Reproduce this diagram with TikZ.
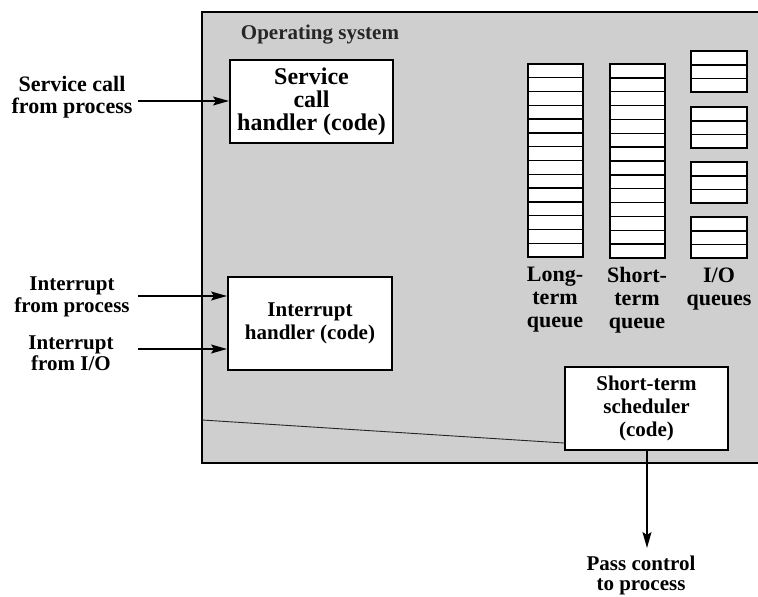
\documentclass[tikz,border=0pt]{standalone}
\usepackage{fontspec}
\setmainfont{Liberation Serif}
\usetikzlibrary{arrows.meta}
\tikzset{
  handlerbox/.style={draw=black, line width=2pt, fill=white, align=center, inner sep=1pt,
    font=\bfseries\fontsize{21}{23}\selectfont},
  outtext/.style={align=center, inner sep=0pt, font=\bfseries\fontsize{21}{21.5}\selectfont},
  qlabel/.style={align=center, inner sep=0pt, font=\bfseries\fontsize{22}{23}\selectfont},
  conn/.style={line width=1.3pt, -{Stealth[length=16pt,width=9pt,inset=3pt]}},
  cell/.style={draw=black, line width=1.4pt, fill=white},
  qframe/.style={draw=black, line width=2pt},
  panelline/.style={line width=2pt, black}
}
\begin{document}
\begin{tikzpicture}[x=1pt,y=-1pt]
\useasboundingbox (0,0) rectangle (758,597);
% operating system panel
\fill[black!19] (202,12) rectangle (758,463);
\draw[panelline] (758,12) -- (202,12) -- (202,463) -- (758,463);
\node[font=\bfseries\fontsize{21}{22}\selectfont, text=black!85] (os) at (320,35) {Operating system};
% thin slanted line
\coordinate (sl) at (202,420);
% handlers
\node[handlerbox, font=\bfseries\fontsize{24}{23}\selectfont, minimum width=163pt, minimum height=83pt] (svc) at (311.5,101.5) {Service\\call\\handler (code)};
\node[handlerbox, minimum width=164pt, minimum height=93pt] (intr) at (310,323.5) {Interrupt\\handler (code)};
\node[handlerbox, minimum width=163pt, minimum height=83pt] (sched) at (646.5,408.5) {Short-term\\scheduler\\(code)};
\draw[line width=0.9pt, black!85] (sl) -- (sched.west |- 0,443);
% external texts
\node[outtext, font=\bfseries\fontsize{22}{22}\selectfont] (svct) at (72,97) {Service call\\from process};
\node[outtext] (intpt) at (72,297) {Interrupt\\from process};
\node[outtext] (intio) at (71,353) {Interrupt\\from I/O};
\node[outtext, font=\bfseries\fontsize{21}{20}\selectfont] (pass) at (641,575) {Pass control\\to process};
\coordinate (a1) at (138,101);
\coordinate (a2) at (138,296);
\coordinate (a3) at (138,349);
\draw[conn] (a1) -- (svc.west |- a1);
\draw[conn] (a2) -- (intr.west |- a2);
\draw[conn] (a3) -- (intr.west |- a3);
\coordinate (pe) at (647,548);
\draw[conn] (sched.south -| pe) -- (pe);
% long-term queue
\foreach \i in {0,...,13} \draw[cell] (528,{64+\i*13.79}) rectangle ++(55,13.79);
\draw[qframe] (528,64) rectangle (583,257);
% short-term queue
\foreach \i in {0,...,13} \draw[cell] (610,{64+\i*13.86}) rectangle ++(55,13.86);
\draw[qframe] (610,64) rectangle (665,258);
% I/O queues
\foreach \y in {51,107,162,217} {
  \foreach \i in {0,1,2} \draw[cell] (691,{\y+\i*13.8}) rectangle ++(56,13.8);
  \draw[qframe] (691,\y) rectangle (747,{\y+41.4});
}
\node[qlabel] (lq) at (555,300) {Long-\\term\\queue};
\node[qlabel] (sq) at (637,300) {Short-\\term\\queue};
\node[qlabel] (iq) at (719,289) {I/O\\queues};
\end{tikzpicture}
\end{document}
